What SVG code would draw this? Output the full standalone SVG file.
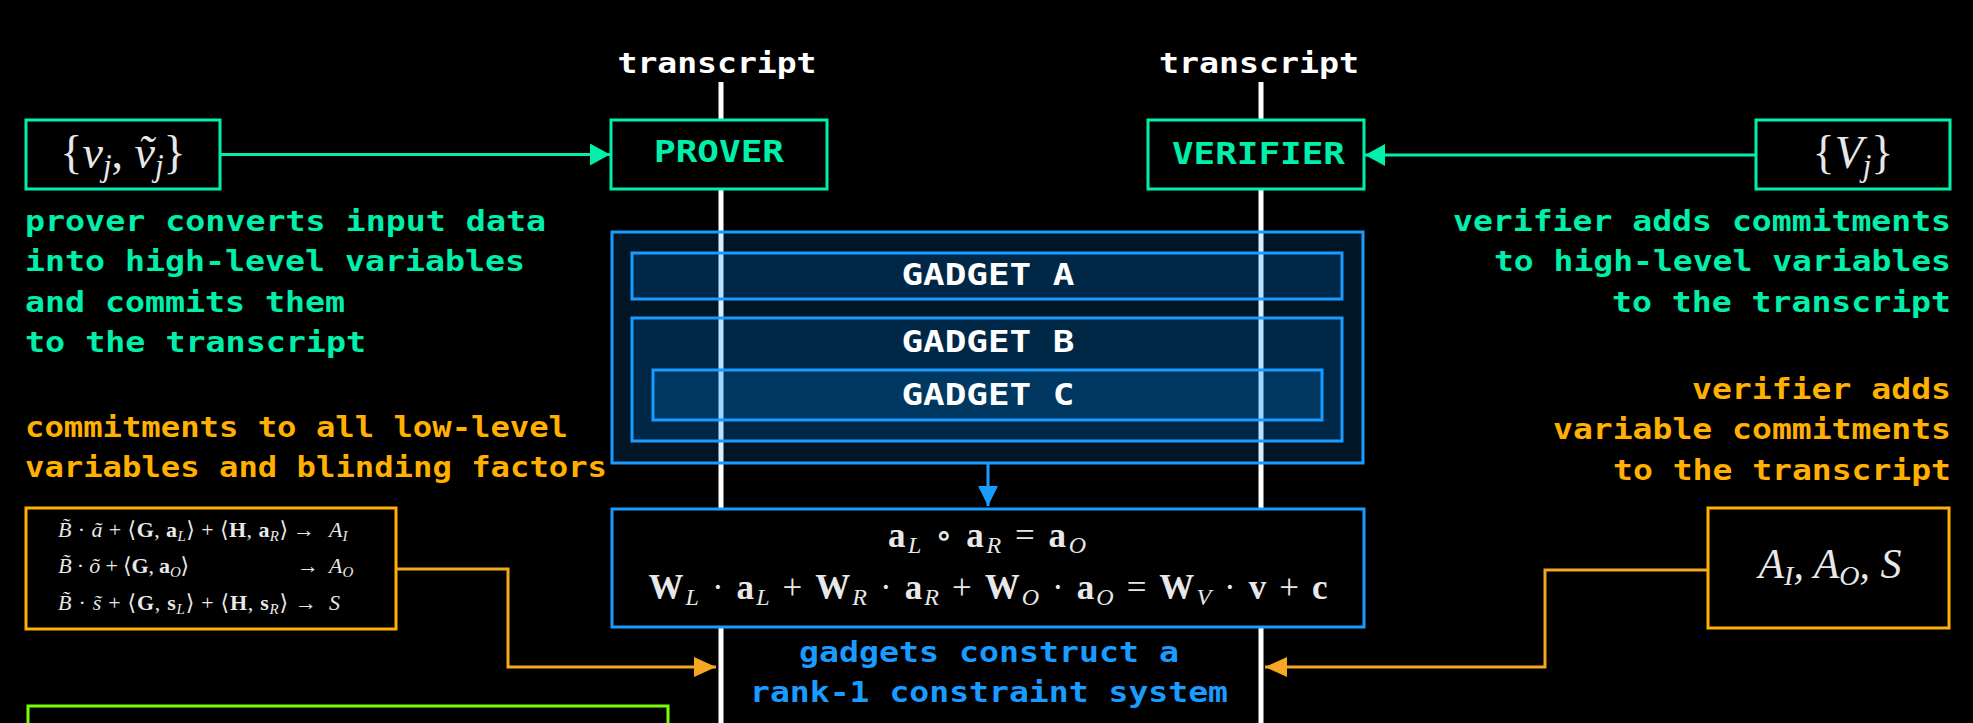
<svg xmlns="http://www.w3.org/2000/svg" width="1973" height="723" viewBox="0 0 1973 723">
<style>
.mono{font-family:"DejaVu Sans Mono","Liberation Mono",monospace;font-weight:bold;font-size:28px}
.lbl{font-family:"DejaVu Sans Mono","Liberation Mono",monospace;font-weight:bold;font-size:30px}
.teal{fill:#00EFAA}
.orange{fill:#FFB000}
.blue{fill:#1A9BFF}
.white{fill:#FFFFFF}
.math{font-family:"Liberation Serif","DejaVu Serif",serif;fill:#E8E8E8}
.it{font-style:italic}
.bf{font-weight:bold}
.boxT{fill:#000;stroke:#00EFAA;stroke-width:3}
.boxO{fill:#000;stroke:#FFB000;stroke-width:3}
.boxB{fill:#000;stroke:#1A9BFF;stroke-width:3}
.gad{fill:#0096FF;fill-opacity:0.15;stroke:#1A9BFF;stroke-width:3}
.tline{stroke:#FFFFFF;stroke-width:5}
</style>
<defs>
<marker id="ahT" markerUnits="userSpaceOnUse" markerWidth="20" markerHeight="22" refX="20" refY="11" orient="auto"><path d="M0,0 L20,11 L0,22 z" fill="#00EFAA"/></marker>
<marker id="ahB" markerUnits="userSpaceOnUse" markerWidth="20" markerHeight="20" refX="20" refY="10" orient="auto"><path d="M0,0 L20,10 L0,20 z" fill="#1A9BFF"/></marker>
<marker id="ahO" markerUnits="userSpaceOnUse" markerWidth="22" markerHeight="20" refX="22" refY="10" orient="auto"><path d="M0,0 L22,10 L0,20 z" fill="#F5A623"/></marker>
</defs>
<rect x="0" y="0" width="1973" height="723" fill="#000"/>

<g id="transcripts">
<text class="mono white" x="717" y="73" text-anchor="middle" textLength="199" lengthAdjust="spacingAndGlyphs">transcript</text>
<text class="mono white" x="1259" y="73" text-anchor="middle" textLength="200" lengthAdjust="spacingAndGlyphs">transcript</text>
<line class="tline" x1="721" y1="82" x2="721" y2="723"/>
<line class="tline" x1="1261" y1="82" x2="1261" y2="723"/>
</g>

<g id="connectors" fill="none" stroke-width="3">
<line x1="220" y1="154.5" x2="610" y2="154.5" stroke="#00EFAA" marker-end="url(#ahT)"/>
<line x1="1756" y1="155" x2="1365" y2="155" stroke="#00EFAA" marker-end="url(#ahT)"/>
<line x1="988" y1="463" x2="988" y2="506" stroke="#1A9BFF" marker-end="url(#ahB)"/>
<polyline points="396,569 508,569 508,667 716,667" stroke="#F5A623" marker-end="url(#ahO)"/>
<polyline points="1708,570 1545,570 1545,667 1265,667" stroke="#F5A623" marker-end="url(#ahO)"/>
</g>

<g id="input-v">
<rect class="boxT" x="26" y="120" width="194" height="69"/>
<text class="math" x="123" y="168" text-anchor="middle" font-size="46"><tspan>{</tspan><tspan class="it">v</tspan><tspan class="it" font-size="31" dy="8">j</tspan><tspan dy="-8">,  </tspan><tspan class="it">ṽ</tspan><tspan class="it" font-size="31" dy="8">j</tspan><tspan dy="-8">}</tspan></text>
</g>

<g id="prover">
<rect class="boxT" x="611" y="120" width="216" height="69"/>
<text class="lbl teal" x="719" y="162" text-anchor="middle" textLength="130" lengthAdjust="spacingAndGlyphs">PROVER</text>
</g>

<g id="verifier">
<rect class="boxT" x="1148" y="120" width="216" height="69"/>
<text class="lbl teal" x="1258.5" y="164" text-anchor="middle" textLength="173" lengthAdjust="spacingAndGlyphs">VERIFIER</text>
</g>

<g id="input-V">
<rect class="boxT" x="1756" y="120" width="194" height="69"/>
<text class="math" x="1853" y="168" text-anchor="middle" font-size="46"><tspan>{</tspan><tspan class="it">V</tspan><tspan class="it" font-size="31" dy="8">j</tspan><tspan dy="-8">}</tspan></text>
</g>

<g id="prover-note">
<text class="mono teal" x="25" y="231" textLength="521" lengthAdjust="spacingAndGlyphs">prover converts input data</text>
<text class="mono teal" x="25" y="271" textLength="500" lengthAdjust="spacingAndGlyphs">into high-level variables</text>
<text class="mono teal" x="25" y="312" textLength="320" lengthAdjust="spacingAndGlyphs">and commits them</text>
<text class="mono teal" x="25" y="352" textLength="341" lengthAdjust="spacingAndGlyphs">to the transcript</text>
</g>

<g id="verifier-note">
<text class="mono teal" x="1951" y="231" text-anchor="end" textLength="498" lengthAdjust="spacingAndGlyphs">verifier adds commitments</text>
<text class="mono teal" x="1951" y="271" text-anchor="end" textLength="457" lengthAdjust="spacingAndGlyphs">to high-level variables</text>
<text class="mono teal" x="1951" y="312" text-anchor="end" textLength="339" lengthAdjust="spacingAndGlyphs">to the transcript</text>
</g>

<g id="verifier-commit-note">
<text class="mono orange" x="1951" y="399" text-anchor="end" textLength="259" lengthAdjust="spacingAndGlyphs">verifier adds</text>
<text class="mono orange" x="1951" y="439" text-anchor="end" textLength="398" lengthAdjust="spacingAndGlyphs">variable commitments</text>
<text class="mono orange" x="1951" y="480" text-anchor="end" textLength="338" lengthAdjust="spacingAndGlyphs">to the transcript</text>
</g>

<g id="prover-commit-note">
<text class="mono orange" x="25" y="437" textLength="543" lengthAdjust="spacingAndGlyphs">commitments to all low-level</text>
<text class="mono orange" x="25" y="477" textLength="582" lengthAdjust="spacingAndGlyphs">variables and blinding factors</text>
</g>

<g id="gadgets">
<rect class="gad" x="612" y="232" width="751" height="231"/>
<rect class="gad" x="632" y="253" width="710" height="46"/>
<text class="lbl white" x="988" y="285" text-anchor="middle" textLength="173" lengthAdjust="spacingAndGlyphs">GADGET A</text>
<rect class="gad" x="632" y="318" width="710" height="123"/>
<text class="lbl white" x="988" y="352" text-anchor="middle" textLength="173" lengthAdjust="spacingAndGlyphs">GADGET B</text>
<rect class="gad" x="653" y="370" width="669" height="50"/>
<text class="lbl white" x="988" y="405" text-anchor="middle" textLength="173" lengthAdjust="spacingAndGlyphs">GADGET C</text>
</g>

<g id="constraints">
<rect class="boxB" x="612" y="509" width="752" height="118"/>
<text class="math" x="987" y="547" text-anchor="middle" font-size="35" textLength="198" lengthAdjust="spacing"><tspan class="bf">a</tspan><tspan class="it" font-size="24" dy="6">L</tspan><tspan dy="-6"> ∘ </tspan><tspan class="bf">a</tspan><tspan class="it" font-size="24" dy="6">R</tspan><tspan dy="-6"> = </tspan><tspan class="bf">a</tspan><tspan class="it" font-size="24" dy="6">O</tspan></text>
<text class="math" x="988" y="599" text-anchor="middle" font-size="35" textLength="679" lengthAdjust="spacing"><tspan class="bf">W</tspan><tspan class="it" font-size="24" dy="6">L</tspan><tspan dy="-6"> · </tspan><tspan class="bf">a</tspan><tspan class="it" font-size="24" dy="6">L</tspan><tspan dy="-6"> + </tspan><tspan class="bf">W</tspan><tspan class="it" font-size="24" dy="6">R</tspan><tspan dy="-6"> · </tspan><tspan class="bf">a</tspan><tspan class="it" font-size="24" dy="6">R</tspan><tspan dy="-6"> + </tspan><tspan class="bf">W</tspan><tspan class="it" font-size="24" dy="6">O</tspan><tspan dy="-6"> · </tspan><tspan class="bf">a</tspan><tspan class="it" font-size="24" dy="6">O</tspan><tspan dy="-6"> = </tspan><tspan class="bf">W</tspan><tspan class="it" font-size="24" dy="6">V</tspan><tspan dy="-6"> · </tspan><tspan class="bf">v</tspan><tspan> + </tspan><tspan class="bf">c</tspan></text>
</g>

<g id="r1cs-note">
<text class="mono blue" x="989" y="662" text-anchor="middle" textLength="380" lengthAdjust="spacingAndGlyphs">gadgets construct a</text>
<text class="mono blue" x="989" y="702" text-anchor="middle" textLength="478" lengthAdjust="spacingAndGlyphs">rank-1 constraint system</text>
</g>

<g id="commitments-box">
<rect class="boxO" x="26" y="508" width="370" height="121"/>
<text class="math" x="58" y="537" font-size="22" textLength="230" lengthAdjust="spacing"><tspan class="it">B̃</tspan> · <tspan class="it">ã</tspan> + ⟨<tspan class="bf">G</tspan>, <tspan class="bf">a</tspan><tspan class="it" font-size="15" dy="4">L</tspan><tspan dy="-4">⟩ + ⟨</tspan><tspan class="bf">H</tspan>, <tspan class="bf">a</tspan><tspan class="it" font-size="15" dy="4">R</tspan><tspan dy="-4">⟩</tspan></text>
<text class="math" x="293" y="537" font-size="22">→</text>
<text class="math it" x="329" y="537" font-size="22">A<tspan font-size="15" dy="4">I</tspan></text>
<text class="math" x="58" y="573" font-size="22" textLength="131" lengthAdjust="spacing"><tspan class="it">B̃</tspan> · <tspan class="it">õ</tspan> + ⟨<tspan class="bf">G</tspan>, <tspan class="bf">a</tspan><tspan class="it" font-size="15" dy="4">O</tspan><tspan dy="-4">⟩</tspan></text>
<text class="math" x="297" y="573" font-size="22">→</text>
<text class="math it" x="329" y="573" font-size="22">A<tspan font-size="15" dy="4">O</tspan></text>
<text class="math" x="58" y="610" font-size="22" textLength="230" lengthAdjust="spacing"><tspan class="it">B̃</tspan> · <tspan class="it">s̃</tspan> + ⟨<tspan class="bf">G</tspan>, <tspan class="bf">s</tspan><tspan class="it" font-size="15" dy="4">L</tspan><tspan dy="-4">⟩ + ⟨</tspan><tspan class="bf">H</tspan>, <tspan class="bf">s</tspan><tspan class="it" font-size="15" dy="4">R</tspan><tspan dy="-4">⟩</tspan></text>
<text class="math" x="295" y="610" font-size="22">→</text>
<text class="math it" x="329" y="610" font-size="22">S</text>
</g>

<g id="commitments-result">
<rect class="boxO" x="1708" y="508" width="241" height="120"/>
<text class="math it" x="1830" y="578" text-anchor="middle" font-size="42">A<tspan font-size="28" dy="7">I</tspan><tspan dy="-7">, A</tspan><tspan font-size="28" dy="7">O</tspan><tspan dy="-7">, S</tspan></text>
</g>

<g id="bottom-box">
<rect x="28" y="706" width="640" height="40" fill="#000" stroke="#76FF03" stroke-width="3"/>
</g>
</svg>
